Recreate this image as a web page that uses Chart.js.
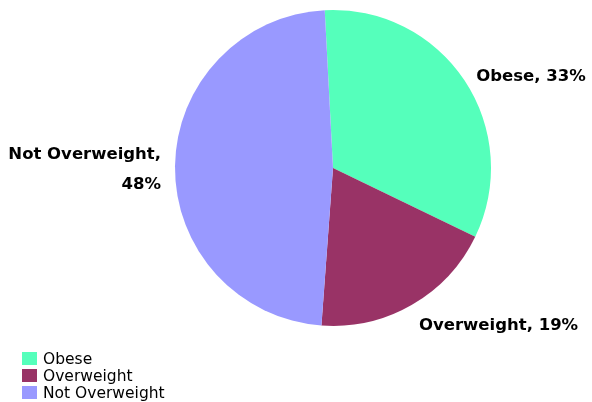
<!DOCTYPE html>
<html>
<head>
<meta charset="utf-8">
<script src="https://cdn.jsdelivr.net/npm/chart.js@4.4.1/dist/chart.umd.min.js"></script>
<style>
  html, body { margin: 0; padding: 0; background: #fff; }
  #wrap { width: 592px; height: 402px; }
</style>
</head>
<body>
<div id="wrap"><canvas id="pie" width="592" height="402"></canvas></div>
<script>
const categories = ["Obese", "Overweight", "Not Overweight"];
const shares = [33, 19, 48];
const sliceColors = ["#55ffbb", "#993366", "#9999ff"];

// slice labels drawn outside the pie, wrapped when they don't fit on the left
const sliceLabels = {
    id: 'sliceLabels',
    afterDatasetsDraw(chart) {
        const ctx = chart.ctx;
        const meta = chart.getDatasetMeta(0);
        const total = shares.reduce((a, b) => a + b, 0);
        ctx.save();
        ctx.font = 'bold 16.5px "DejaVu Sans", Verdana, sans-serif';
        ctx.fillStyle = '#000';
        ctx.textBaseline = 'middle';
        meta.data.forEach((arc, i) => {
            const mid = (arc.startAngle + arc.endAngle) / 2;
            const r = arc.outerRadius + 14;
            const x = arc.x + Math.cos(mid) * r;
            // labels below the centre sit a little lower
            const y = arc.y + Math.sin(mid) * r + 4 + 5 * Math.max(0, Math.sin(mid));
            const pct = Math.round(shares[i] / total * 100) + '%';
            const right = Math.cos(mid) >= 0;
            ctx.textAlign = right ? 'left' : 'right';
            const full = categories[i] + ', ' + pct;
            const room = right ? chart.width - x : x;
            if (ctx.measureText(full).width < room) {
                ctx.fillText(full, x, y);
            } else {
                ctx.fillText(categories[i] + ',', x, y - 15);
                ctx.fillText(pct, x, y + 15);
            }
        });
        ctx.restore();
    }
};

// plain vertical legend in the lower-left corner
const cornerLegend = {
    id: 'cornerLegend',
    afterDraw(chart) {
        const ctx = chart.ctx;
        ctx.save();
        ctx.font = '15.5px "DejaVu Sans", Verdana, sans-serif';
        ctx.textBaseline = 'middle';
        ctx.textAlign = 'left';
        categories.forEach((name, i) => {
            const top = 352 + i * 17;
            ctx.fillStyle = sliceColors[i];
            ctx.fillRect(22, top, 15, 13);
            ctx.fillStyle = '#000';
            ctx.fillText(name, 43, top + 8);
        });
        ctx.restore();
    }
};

new Chart(document.getElementById('pie'), {
    type: 'pie',
    data: {
        labels: categories,
        datasets: [{
            data: shares,
            backgroundColor: sliceColors,
            borderWidth: 0
        }]
    },
    options: {
        responsive: false,
        animation: false,
        rotation: -3,
        layout: { padding: { left: 175, right: 101, top: 10, bottom: 76 } },
        plugins: {
            legend: { display: false },
            tooltip: { enabled: false }
        }
    },
    plugins: [sliceLabels, cornerLegend]
});
</script>
</body>
</html>
